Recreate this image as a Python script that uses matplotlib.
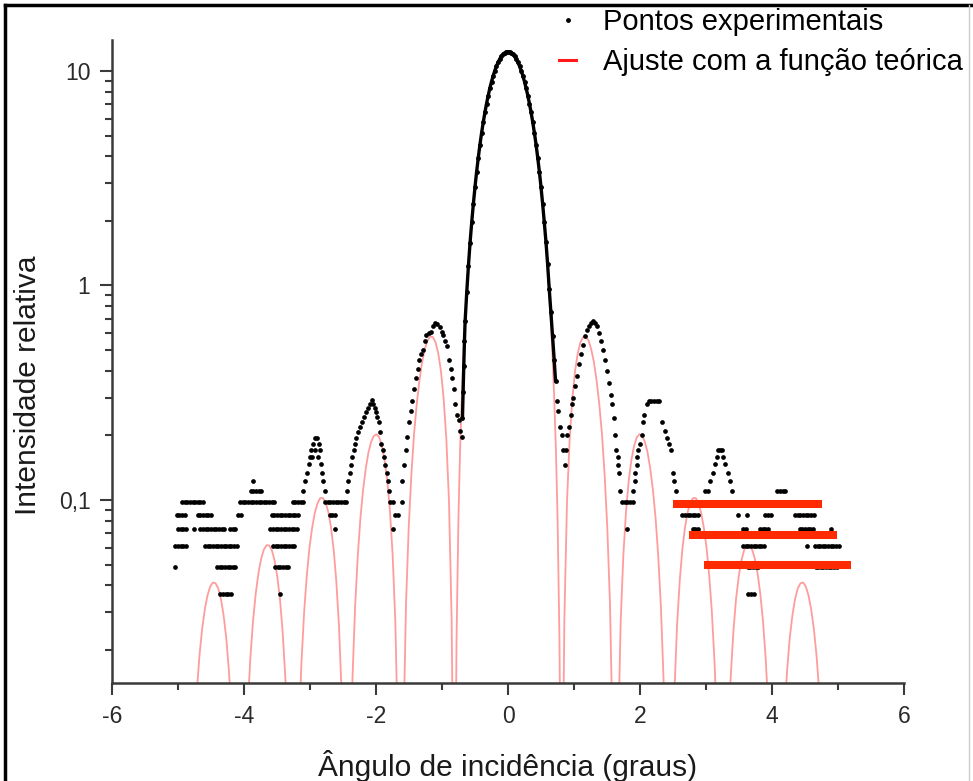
import numpy as np
from matplotlib import pyplot as plt
from matplotlib.lines import Line2D

plt.rcParams['font.family'] = ['Liberation Sans', 'DejaVu Sans']

# ---------------- data ----------------
# theoretical fit, right half lobe by lobe (mirrored for the left half)
fit_x0 = [0.0, 0.05, 0.1, 0.15, 0.2, 0.25, 0.3, 0.35, 0.4, 0.45, 0.5, 0.55, 0.6, 0.625, 0.65,
          0.675, 0.7, 0.725, 0.75, 0.78, 0.80, 0.813]
fit_y0 = [12.3, 12.15, 11.7, 10.98, 10.04, 8.92, 7.69, 6.41, 5.14, 3.95, 2.88, 1.97, 1.23, 0.929,
          0.676, 0.466, 0.30, 0.175, 0.085, 0.022, 0.0033, 0.001]
fit_x1 = [0.829, 0.854, 0.894, 0.935, 0.976, 1.016, 1.057, 1.098, 1.138, 1.179, 1.220, 1.260,
          1.301, 1.341, 1.382, 1.423, 1.463, 1.504, 1.545, 1.585, 1.610]
fit_y1 = [0.0047, 0.0277, 0.0984, 0.194, 0.299, 0.399, 0.483, 0.543, 0.575, 0.578, 0.554, 0.506,
          0.440, 0.363, 0.282, 0.204, 0.133, 0.075, 0.033, 0.008, 0.0013]
fit_x2 = [1.642, 1.667, 1.707, 1.748, 1.789, 1.829, 1.870, 1.911, 1.951, 1.992, 2.033, 2.073,
          2.114, 2.154, 2.195, 2.236, 2.276, 2.317, 2.358, 2.398, 2.423]
fit_y2 = [0.0012, 0.0073, 0.027, 0.0556, 0.089, 0.123, 0.154, 0.179, 0.196, 0.2025, 0.199, 0.187,
          0.167, 0.141, 0.112, 0.0824, 0.055, 0.0316, 0.0142, 0.0035, 0.0006]
fit_x3 = [2.480, 2.520, 2.561, 2.602, 2.642, 2.683, 2.724, 2.764, 2.805, 2.846, 2.886, 2.927,
          2.967, 3.008, 3.049, 3.089, 3.130, 3.171, 3.211]
fit_y3 = [0.0033, 0.0124, 0.0259, 0.042, 0.059, 0.075, 0.0882, 0.0975, 0.1021, 0.102, 0.0965,
          0.087, 0.0743, 0.060, 0.0443, 0.030, 0.0173, 0.0078, 0.002]
fit_x4 = [3.293, 3.333, 3.374, 3.415, 3.455, 3.496, 3.537, 3.577, 3.618, 3.659, 3.699, 3.740,
          3.780, 3.821, 3.862, 3.902, 3.943, 3.984]
fit_y4 = [0.0015, 0.0071, 0.0149, 0.0244, 0.0345, 0.0441, 0.0523, 0.0582, 0.0614, 0.0615, 0.0587,
          0.0533, 0.0458, 0.0369, 0.0276, 0.0187, 0.0109, 0.005]
fit_x5 = [4.146, 4.187, 4.228, 4.268, 4.309, 4.350, 4.390, 4.431, 4.472, 4.512, 4.553, 4.593,
          4.634, 4.675, 4.715, 4.756]
fit_y5 = [0.004, 0.0097, 0.0159, 0.0226, 0.029, 0.0346, 0.0387, 0.0409, 0.0412, 0.0395, 0.0359,
          0.031, 0.0251, 0.0188, 0.0128, 0.0075]

# experimental points: central peak (dense, drawn as a continuous trace)
peak_x = [-0.69, -0.68, -0.67, -0.66, -0.65, -0.625, -0.6, -0.575, -0.55, -0.525, -0.5, -0.475,
          -0.45, -0.425, -0.4, -0.375, -0.35, -0.325, -0.3, -0.275, -0.25, -0.225, -0.2, -0.175,
          -0.15, -0.125, -0.1, -0.075, -0.05, -0.025, 0.0, 0.025, 0.05, 0.075, 0.1, 0.125, 0.15,
          0.175, 0.2, 0.225, 0.25, 0.275, 0.3, 0.325, 0.35, 0.375, 0.4, 0.425, 0.45, 0.475, 0.5,
          0.525, 0.55, 0.575, 0.6, 0.625, 0.65, 0.675, 0.70, 0.72]
peak_y = [0.24, 0.32, 0.42, 0.55, 0.68, 0.93, 1.23, 1.58, 1.97, 2.40, 2.88, 3.40,
          3.95, 4.54, 5.15, 5.77, 6.41, 7.05, 7.68, 8.31, 8.92, 9.50, 10.04, 10.53,
          10.98, 11.37, 11.70, 11.96, 12.15, 12.26, 12.3, 12.26, 12.15, 11.96, 11.70, 11.37, 10.98,
          10.53, 10.04, 9.50, 8.92, 8.31, 7.68, 7.05, 6.41, 5.77, 5.15, 4.54, 3.95, 3.40, 2.88,
          2.40, 1.97, 1.60, 1.26, 0.96, 0.75, 0.58, 0.45, 0.36]

# experimental points: side lobes above the digitiser steps
lobe_x = [-2.44, -2.42, -2.40, -2.38, -2.36, -2.34, -2.32, -2.30, -2.27, -2.24, -2.21, -2.18,
          -2.15, -2.12, -2.09, -2.06, -2.04, -2.02, -2.00, -1.98, -1.96, -1.94, -1.92, -1.90,
          -1.88, -1.86, -1.84, -1.82, -1.80,
          -1.61, -1.58, -1.55, -1.53, -1.50, -1.47, -1.45, -1.42, -1.39, -1.37, -1.35, -1.32,
          -1.29, -1.26, -1.24, -1.20, -1.17, -1.13, -1.10, -1.07, -1.03, -1.00, -0.98, -0.95,
          -0.92, -0.90, -0.87, -0.85, -0.82, -0.80, -0.77, -0.74, -0.72, -0.70,
          0.74, 0.76, 0.79, 0.82, 0.84, 0.86, 0.88, 0.90, 0.93, 0.95, 0.97, 0.99, 1.02, 1.05,
          1.08, 1.11, 1.14, 1.17, 1.20, 1.23, 1.26, 1.29, 1.32, 1.35, 1.38, 1.41, 1.44, 1.47,
          1.50, 1.53, 1.56, 1.58, 1.60, 1.62, 1.64, 1.66, 1.67, 1.68, 1.70,
          1.90, 1.92, 1.93, 1.95, 1.96, 1.97, 2.00, 2.03, 2.05, 2.06, 2.10, 2.13, 2.17, 2.21,
          2.25, 2.29, 2.33, 2.38, 2.41, 2.44, 2.47, 2.50, 2.52, 2.55]
lobe_y = [0.110, 0.122, 0.134, 0.146, 0.158, 0.171, 0.183, 0.195, 0.207, 0.220, 0.232, 0.244,
          0.256, 0.268, 0.281, 0.293, 0.281, 0.268, 0.256, 0.244, 0.232, 0.207, 0.183, 0.171,
          0.158, 0.146, 0.134, 0.122, 0.110,
          0.122, 0.146, 0.171, 0.197, 0.23, 0.26, 0.29, 0.33, 0.37, 0.41, 0.45, 0.48,
          0.50, 0.55, 0.59, 0.60, 0.61, 0.65, 0.67, 0.66, 0.64, 0.61, 0.59, 0.55,
          0.52, 0.45, 0.41, 0.37, 0.33, 0.28, 0.25, 0.236, 0.21, 0.197,
          0.29, 0.26, 0.22, 0.20, 0.171, 0.146, 0.171, 0.20, 0.22, 0.25, 0.28, 0.30, 0.34, 0.38,
          0.43, 0.48, 0.53, 0.58, 0.62, 0.65, 0.67, 0.68, 0.67, 0.65, 0.60, 0.55, 0.50, 0.45,
          0.40, 0.35, 0.31, 0.28, 0.24, 0.20, 0.171, 0.158, 0.146, 0.134, 0.110,
          0.110, 0.122, 0.134, 0.146, 0.158, 0.171, 0.183, 0.20, 0.23, 0.25, 0.28, 0.29, 0.29, 0.29,
          0.29, 0.29, 0.23, 0.21, 0.195, 0.183, 0.171, 0.134, 0.122, 0.110]

# experimental points sitting on the low digitiser steps (value = step * level)
step = 0.0122
lv3_x = [-4.36, -4.32, -4.28, -4.24, -4.20, -3.45, 3.64, 3.68, 3.72]
lv4_x = [-5.04, -4.41, -4.37, -4.33, -4.29, -4.25, -4.21, -4.17, -4.13, -3.53, -3.49, -3.45,
         -3.41, -3.37, -3.33, 3.63, 3.67, 3.71, 3.75, 3.79, 4.66, 4.70, 4.74, 4.78, 4.82, 4.86,
         4.90, 4.94, 4.98]
lv5_x = [-5.04, -5.00, -4.96, -4.92, -4.88, -4.59, -4.55, -4.51, -4.47, -4.43, -4.39, -4.35,
         -4.31, -4.27, -4.23, -4.19, -4.15, -4.11, -3.56, -3.52, -3.48, -3.44, -3.40, -3.36,
         -3.32, -3.28, -3.24, 3.56, 3.60, 3.64, 3.68, 3.72, 3.76, 3.80, 3.84, 3.88, 4.53, 4.65,
         4.69, 4.73, 4.77, 4.81, 4.85, 4.89, 4.93, 4.97, 5.01]
lv6_x = [-5.00, -4.96, -4.92, -4.88, -4.76, -4.66, -4.62, -4.58, -4.54, -4.50, -4.46, -4.42,
         -4.38, -4.34, -4.30, -4.21, -4.17, -4.13, -3.60, -3.56, -3.52, -3.48, -3.44, -3.40,
         -3.36, -3.32, -3.28, -3.24, -3.20, -2.62, -1.74, 1.80, 2.80, 2.84, 2.88, 3.56, 3.60,
         3.82, 3.86, 3.90, 3.94, 4.42, 4.46, 4.50, 4.54, 4.58, 4.62, 4.90]
lv7_x = [-5.02, -4.98, -4.94, -4.90, -4.70, -4.66, -4.62, -4.58, -4.54, -4.50, -4.09, -4.05,
         -3.58, -3.54, -3.50, -3.46, -3.42, -3.38, -3.34, -3.30, -3.26, -3.22, -3.18, -2.70,
         -2.66, -2.62, -1.71, -1.67, 2.64, 2.68, 2.72, 2.76, 2.80, 2.84, 2.88, 3.48, 3.62, 3.90,
         3.94, 3.98, 4.35, 4.39, 4.43, 4.47, 4.51, 4.55, 4.59, 4.63]
lv8_x = [-4.94, -4.90, -4.86, -4.82, -4.78, -4.74, -4.70, -4.66, -4.62, -4.06, -4.02, -3.98,
         -3.94, -3.90, -3.86, -3.82, -3.78, -3.74, -3.70, -3.66, -3.62, -3.58, -3.54, -3.26,
         -3.22, -3.18, -3.14, -3.10, -2.77, -2.73, -2.69, -2.65, -2.61, -2.57, -2.53, -2.49,
         -2.45, -1.79, -1.75, -1.61, 1.73, 1.77, 1.81, 1.85, 1.89, 2.58, 2.62, 2.66, 2.70, 2.74,
         2.78, 2.82, 2.86, 2.90, 2.94, 3.44, 3.92, 3.96, 4.00, 4.04, 4.08, 4.12, 4.16, 4.20,
         4.24, 4.28, 4.32, 4.36, 4.40, 4.44, 4.48, 4.52]
lv9_x = [-3.90, -3.86, -3.82, -3.78, -3.74, 4.08, 4.12, 4.16, 4.20]
lv10_x = [-3.86]
# small lobes near x = -2.9 and x = 3.2 (x, level)
lobe3_x = [-3.10, -3.07, -3.05, -3.02, -3.00, -2.97, -2.98, -2.95, -2.93, -2.92, -2.89, -2.88,
           -2.87, -2.85, -2.83, -2.82, -2.80, -2.78,
           2.98, 3.03, 3.06, 3.11, 3.14, 3.17, 3.18, 3.21, 3.24, 3.26, 3.29, 3.33, 3.36, 3.39]
lobe3_lvl = [9, 10, 11, 12, 13, 13, 14, 15, 14, 16, 16, 13, 15, 14, 12, 11, 10, 9,
             9, 9, 10, 11, 12, 13, 14, 14, 14, 13, 12, 11, 10, 9]

# highlight bars drawn over the right tail
bar_y = [0.0953, 0.0687, 0.0498]
bar_x0 = [2.50, 2.74, 2.97]
bar_x1 = [4.76, 4.98, 5.20]

xticks = [-6, -4, -2, 0, 2, 4, 6]
xtick_labels = ['-6', '-4', '-2', '0', '2', '4', '6']
yticks = [0.1, 1, 10]
ytick_labels = ['0,1', '1', '10']

# ---------------- figure ----------------
W, H = 973, 781
fig = plt.figure(figsize=(W / 100, H / 100), dpi=100)
ax = fig.add_axes([112 / W, 1 - 683 / H, (904 - 112) / W, (683 - 40) / H])

fx = np.concatenate([fit_x0, fit_x1, fit_x2, fit_x3, fit_x4, fit_x5])
fy = np.concatenate([fit_y0, fit_y1, fit_y2, fit_y3, fit_y4, fit_y5])
full_fx = np.concatenate([-fx[::-1], fx[1:]])
full_fy = np.concatenate([fy[::-1], fy[1:]])
ax.plot(full_fx, full_fy, color='#ff9c9c', lw=1.3, zorder=2)

rows = [(3, lv3_x), (4, lv4_x), (5, lv5_x), (6, lv6_x), (7, lv7_x), (8, lv8_x),
        (9, lv9_x), (10, lv10_x)]
tx = np.concatenate([r[1] for r in rows] + [lobe3_x])
ty = step * np.concatenate([[r[0]] * len(r[1]) for r in rows] + [lobe3_lvl])
ax.plot(tx, ty, 'o', color='k', ms=3.4, mew=0, zorder=3)
ax.plot(lobe_x, lobe_y, 'o', color='k', ms=3.4, mew=0, zorder=3)
ax.plot(peak_x, peak_y, '-', color='k', lw=2.4, zorder=3)
ax.plot(peak_x, peak_y, 'o', color='k', ms=3.5, mew=0, zorder=3)

ax.hlines(bar_y, bar_x0, bar_x1, colors='#ff2a00', lw=5.8, zorder=5, clip_on=False)

ax.set_yscale('log')
ax.set_xlim(-6, 6)
ax.set_ylim(0.01402, 13.95)
ax.set_xticks(xticks)
ax.set_xticklabels(xtick_labels)
ax.set_xticks([-5, -3, -1, 1, 3, 5], minor=True)
ax.set_yticks(yticks)
ax.set_yticklabels(ytick_labels)

for s in ['top', 'right']:
    ax.spines[s].set_visible(False)
for s in ['left', 'bottom']:
    ax.spines[s].set_linewidth(1.8)
    ax.spines[s].set_color('#3a3a3a')
ax.tick_params(which='major', direction='out', length=8.5, width=1.5, color='#3a3a3a',
               labelsize=16.5, labelcolor='#2a2a2a', pad=7)
ax.tick_params(which='minor', direction='out', length=5, width=1.5, color='#3a3a3a')
ax.tick_params(axis='y', which='minor', labelleft=False)

ax.set_xlabel('Ângulo de incidência (graus)', fontsize=21.5, color='#1a1a1a')
ax.set_ylabel('Intensidade relativa', fontsize=21.5, color='#1a1a1a')
ax.xaxis.label.set_va('center')
ax.yaxis.label.set_va('center')
ax.xaxis.set_label_coords(0.5, (683 - 766) / 643)
ax.yaxis.set_label_coords((28 - 112) / 792, (683 - 385) / 643)

handles = [Line2D([], [], ls='none', marker='o', color='k', ms=3.5, mew=0),
           Line2D([], [], color='#ff1a1a', lw=2.2)]
fig.legend(handles, ['Pontos experimentais', 'Ajuste com a função teórica'],
           loc='upper left', bbox_to_anchor=(556 / W, 1 - 5 / H), frameon=False,
           fontsize=21, handlelength=0.6, handletextpad=0.9, labelspacing=0.41,
           borderpad=0.1, borderaxespad=0)

# picture frame
fig.add_artist(Line2D([5 / W, 5 / W], [0, 1 - 5 / H], transform=fig.transFigure, color='k', lw=2.5))
fig.add_artist(Line2D([5 / W, 1], [1 - 5 / H, 1 - 5 / H], transform=fig.transFigure, color='k', lw=2.5))
fig.add_artist(Line2D([969 / W, 969 / W], [0, 1 - 5 / H], transform=fig.transFigure, color='#cccccc', lw=1))

plt.savefig('out.png', dpi=100)
